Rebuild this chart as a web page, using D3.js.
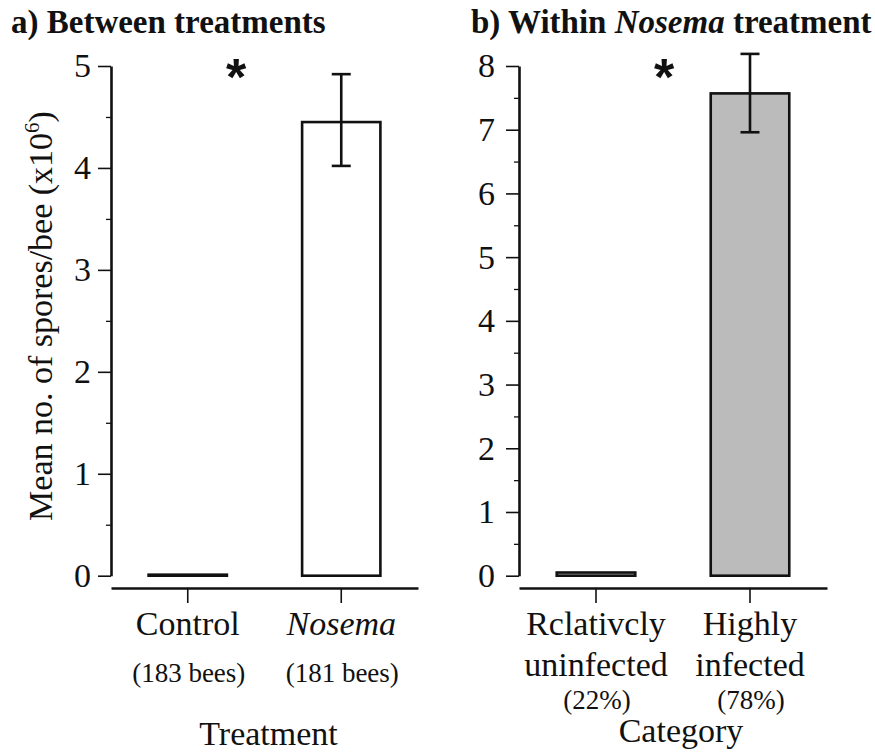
<!DOCTYPE html>
<html>
<head>
<meta charset="utf-8"/>
<title>Nosema spores per bee</title>
<script src="https://d3js.org/d3.v7.min.js"></script>
<style type="text/css">
	body { margin: 0; background: #fff; }
</style>
</head>
<body>
<svg width="875" height="752"></svg>
<script type="text/javascript">
// ---- data ----
// panel a
var catsA = ["Control", "Nosema"];
var subA = ["(183 bees)", "(181 bees)"];
var meanA = [0.01, 4.45];
var lowA = [null, 4.02];
var highA = [null, 4.92];
var ticksA = [0, 1, 2, 3, 4, 5];
// panel b
var catsB = ["Rclativcly|uninfected", "Highly|infected"];
var subB = ["(22%)", "(78%)"];
var meanB = [0.05, 7.57];
var lowB = [null, 6.96];
var highB = [null, 8.19];
var ticksB = [0, 1, 2, 3, 4, 5, 6, 7, 8];

var SERIF = "'Liberation Serif'";
var INK = "#111";
var svg = d3.select("svg").style("font-family", SERIF);

function txt(sel) {
	return sel.append("text").style("font-family", SERIF).attr("fill", INK);
}

function panel(opt) {
	var g = svg.append("g");
	var y = d3.scaleLinear().domain([0, opt.max]).range([575.7, 66]);
	var x = d3.scaleBand().domain(opt.cats).range([opt.x0, opt.x1])
		.paddingInner(0.49).paddingOuter(0.245);

	// y axis, major + minor ticks
	g.append("g")
		.attr("transform", "translate(" + opt.x0 + ",0)")
		.call(d3.axisLeft(y).tickValues(opt.ticks).tickSize(13).tickSizeOuter(0)
			.tickPadding(opt.pad).tickFormat(d3.format("d")))
		.call(function(a) {
			a.attr("font-family", null);
			a.select(".domain").attr("stroke", INK).attr("stroke-width", 2.6);
			a.selectAll(".tick line").attr("stroke", INK).attr("stroke-width", 1.6);
			a.selectAll(".tick text").style("font-family", SERIF)
				.style("font-size", "34px").attr("fill", INK);
		});
	var halves = d3.range(0.5, opt.max, 1);
	g.append("g")
		.attr("transform", "translate(" + opt.x0 + ",0)")
		.call(d3.axisLeft(y).tickValues(halves).tickSize(5).tickFormat(""))
		.call(function(a) {
			a.select(".domain").remove();
			a.selectAll(".tick line").attr("stroke", INK).attr("stroke-width", 1.3);
		});

	// x axis line below the bars
	g.append("g")
		.attr("transform", "translate(0,588)")
		.call(d3.axisBottom(x).tickSize(15).tickSizeOuter(0).tickFormat(""))
		.call(function(a) {
			a.select(".domain").attr("stroke", INK).attr("stroke-width", 2.6);
			a.selectAll(".tick line").attr("stroke", INK).attr("stroke-width", 1.6);
		});

	// bars
	g.selectAll("rect.bar").data(opt.cats).enter().append("rect")
		.attr("class", "bar")
		.attr("x", function(d) { return x(d); })
		.attr("width", x.bandwidth())
		.attr("y", function(d, i) { return y(opt.mean[i]); })
		.attr("height", function(d, i) { return y(0) - y(opt.mean[i]); })
		.attr("fill", opt.fill)
		.attr("stroke", INK)
		.attr("stroke-width", 2.6);

	// error bars
	opt.cats.forEach(function(c, i) {
		if (opt.low[i] == null) return;
		var cx = x(c) + x.bandwidth() / 2;
		g.append("line").attr("x1", cx).attr("x2", cx)
			.attr("y1", y(opt.low[i])).attr("y2", y(opt.high[i]))
			.attr("stroke", INK).attr("stroke-width", 2.6);
		[opt.low[i], opt.high[i]].forEach(function(v) {
			g.append("line").attr("x1", cx - 9.5).attr("x2", cx + 9.5)
				.attr("y1", y(v)).attr("y2", y(v))
				.attr("stroke", INK).attr("stroke-width", 2.6);
		});
	});

	// significance star
	g.append("text").attr("x", opt.star).attr("y", 95)
		.attr("text-anchor", "middle")
		.style("font-family", "'Liberation Sans'")
		.attr("font-weight", "bold").attr("font-size", 52).attr("fill", INK)
		.text("*");

	// category labels
	opt.cats.forEach(function(c, i) {
		var cx = x(c) + x.bandwidth() / 2;
		var lines = c.split("|");
		lines.forEach(function(l, j) {
			txt(g).attr("x", cx).attr("y", 635 + j * opt.lineGap)
				.attr("text-anchor", "middle").attr("font-size", 34)
				.attr("font-style", l == "Nosema" ? "italic" : null)
				.text(l);
		});
		txt(g).attr("x", cx + 1)
			.attr("y", 635 + (lines.length - 1) * opt.lineGap + opt.subGap)
			.attr("text-anchor", "middle").attr("font-size", 27)
			.text(opt.sub[i]);
	});

	// axis title
	txt(g).attr("x", (opt.x0 + opt.x1) / 2 + opt.titleDx).attr("y", opt.titleY)
		.attr("text-anchor", "middle").attr("font-size", 34)
		.text(opt.xTitle);
	return g;
}

panel({cats: catsA, sub: subA, mean: meanA, low: lowA, high: highA, ticks: ticksA,
	max: 5, x0: 111, x1: 418, pad: 7, fill: "#fff", star: 236,
	lineGap: 41, subGap: 47, xTitle: "Treatment", titleY: 745, titleDx: 4});
panel({cats: catsB, sub: subB, mean: meanB, low: lowB, high: highB, ticks: ticksB,
	max: 8, x0: 519, x1: 827, pad: 11, fill: "#bbbbbb", star: 664,
	lineGap: 41, subGap: 33, xTitle: "Category", titleY: 742, titleDx: 8});

// panel titles
txt(svg).attr("x", 11).attr("y", 33)
	.attr("font-size", 33).attr("font-weight", "bold")
	.text("a) Between treatments");
var tb = txt(svg).attr("x", 471).attr("y", 33)
	.attr("font-size", 33).attr("font-weight", "bold");
tb.append("tspan").text("b) Within ");
tb.append("tspan").attr("font-style", "italic").text("Nosema");
tb.append("tspan").text(" treatment");

// y axis title
var yl = txt(svg)
	.attr("transform", "translate(52,316) rotate(-90)")
	.attr("text-anchor", "middle").attr("font-size", 34);
yl.append("tspan").text("Mean no. of spores/bee (x10");
yl.append("tspan").attr("font-size", 21).attr("dy", -13).text("6");
yl.append("tspan").attr("dy", 13).text(")");
</script>
</body>
</html>
